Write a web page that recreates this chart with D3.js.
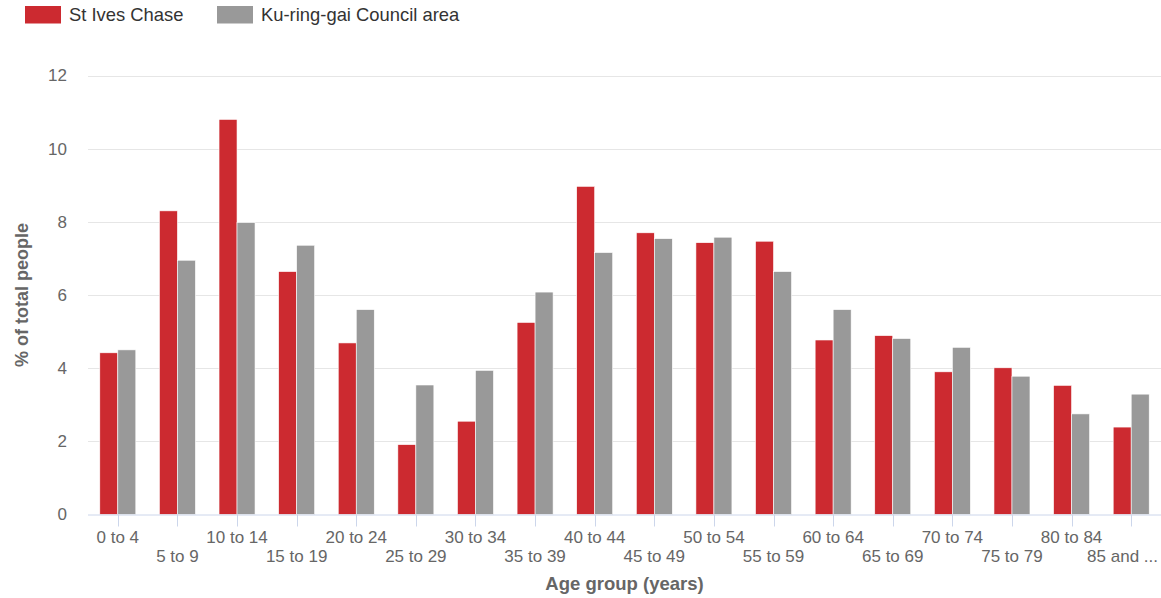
<!DOCTYPE html>
<html>
<head>
<meta charset="utf-8">
<script src="https://cdn.jsdelivr.net/npm/d3@7"></script>
<style>
  html, body { margin: 0; padding: 0; background: #fff; }
  svg { display: block; font-family: "Liberation Sans", Arial, sans-serif; }
</style>
</head>
<body>
<svg id="chart" width="1161" height="598"></svg>
<script>
const categories = ["0 to 4","5 to 9","10 to 14","15 to 19","20 to 24","25 to 29","30 to 34","35 to 39","40 to 44","45 to 49","50 to 54","55 to 59","60 to 64","65 to 69","70 to 74","75 to 79","80 to 84","85 and ..."];
const seriesNames = ["St Ives Chase", "Ku-ring-gai Council area"];
const stIvesChase = [4.42, 8.30, 10.80, 6.64, 4.69, 1.91, 2.55, 5.25, 8.97, 7.70, 7.43, 7.47, 4.77, 4.89, 3.90, 4.01, 3.53, 2.39];
const kuringgai = [4.50, 6.95, 7.98, 7.36, 5.60, 3.54, 3.94, 6.08, 7.16, 7.54, 7.58, 6.64, 5.60, 4.81, 4.57, 3.78, 2.75, 3.29];
const yTicks = [0, 2, 4, 6, 8, 10, 12];
const colors = ["#cc2a30", "#999999"];

(function () {
const svg = d3.select("#chart");
const plotLeft = 88, plotRight = 1161, plotTop = 75.5, plotBottom = 514.5;

const x0 = d3.scaleBand().domain(categories).range([plotLeft, plotRight]).padding(0);
const bw = x0.bandwidth();
const x1 = d3.scaleBand().domain(seriesNames).range([0.198 * bw, bw - 0.198 * bw]).padding(0);
const y = d3.scaleLinear().domain([0, 12]).range([plotBottom, plotTop]);

// gridlines
svg.append("g").selectAll("line").data(yTicks.filter(d => d > 0)).join("line")
  .attr("x1", plotLeft).attr("x2", plotRight)
  .attr("y1", d => Math.round(y(d)) + 0.5).attr("y2", d => Math.round(y(d)) + 0.5)
  .attr("stroke", "#e6e6e6").attr("stroke-width", 1);

// y labels
svg.append("g").selectAll("text").data(yTicks).join("text")
  .attr("x", 67).attr("y", d => y(d))
  .attr("dy", "0.35em")
  .attr("text-anchor", "end")
  .attr("fill", "#666666").attr("font-size", "17px")
  .text(d => d);

// bars
const data = categories.map((c, i) => ({ cat: c, vals: [stIvesChase[i], kuringgai[i]] }));
const groups = svg.append("g").selectAll("g").data(data).join("g")
  .attr("transform", d => `translate(${x0(d.cat)},0)`);
groups.selectAll("rect").data(d => d.vals.map((v, j) => ({ v, s: seriesNames[j], j }))).join("rect")
  .attr("x", d => x1(d.s))
  .attr("width", x1.bandwidth())
  .attr("y", d => y(d.v))
  .attr("height", d => y(0) - y(d.v))
  .attr("fill", d => colors[d.j])
  .attr("stroke", "#ffffff").attr("stroke-width", 0.6);

// x axis line
svg.append("line").attr("x1", plotLeft).attr("x2", plotRight)
  .attr("y1", plotBottom + 0.5).attr("y2", plotBottom + 0.5)
  .attr("stroke", "#ccd6eb").attr("stroke-width", 1);

// ticks at category centers
svg.append("g").selectAll("line").data(categories).join("line")
  .attr("x1", d => Math.round(x0(d) + bw / 2) + 0.5).attr("x2", d => Math.round(x0(d) + bw / 2) + 0.5)
  .attr("y1", plotBottom).attr("y2", plotBottom + 12)
  .attr("stroke", "#ccd6eb").attr("stroke-width", 1);

// x labels (staggered), kept inside the canvas
svg.append("g").selectAll("text").data(categories).join("text")
  .attr("x", d => x0(d) + bw / 2)
  .attr("y", (d, i) => i % 2 === 0 ? 543 : 562)
  .attr("text-anchor", "middle")
  .attr("fill", "#666666").attr("font-size", "17px")
  .text(d => d)
  .each(function () {
    const w = this.getComputedTextLength();
    const cx = +this.getAttribute("x");
    const maxRight = 1158;
    if (cx + w / 2 > maxRight) this.setAttribute("x", maxRight - w / 2);
  });

// axis titles
svg.append("text").attr("x", (plotLeft + plotRight) / 2).attr("y", 590)
  .attr("text-anchor", "middle").attr("fill", "#666666")
  .attr("font-size", "18.5px").attr("font-weight", "bold")
  .text("Age group (years)");

svg.append("text")
  .attr("transform", `translate(28,${(plotTop + plotBottom) / 2}) rotate(-90)`)
  .attr("text-anchor", "middle").attr("fill", "#666666")
  .attr("font-size", "18px").attr("font-weight", "bold")
  .text("% of total people");

// legend
const legendX = [25, 217];
const lg = svg.append("g").selectAll("g").data(seriesNames).join("g")
  .attr("transform", (d, i) => `translate(${legendX[i]},0)`);
lg.append("rect").attr("x", 0).attr("y", 6).attr("width", 36).attr("height", 17.5)
  .attr("fill", (d, i) => colors[i]);
lg.append("text").attr("x", 44).attr("y", 21)
  .attr("fill", "#333333").attr("font-size", "18.4px")
  .text(d => d);
})();
</script>
</body>
</html>
